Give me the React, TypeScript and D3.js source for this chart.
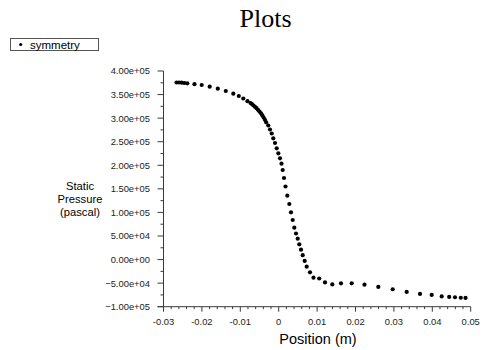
import React from "react";
import * as d3 from "d3";

const title = "Plots";
const seriesName = "symmetry";
const xLabel = "Position (m)";
const yLabelLines = ["Static", "Pressure", "(pascal)"];

const position = [
  -0.02661, -0.02596, -0.02526, -0.02458, -0.0238, -0.02193, -0.02005, -0.01797,
  -0.01586, -0.01378, -0.01182, -0.01039, -0.00922, -0.00813, -0.00734, -0.00695,
  -0.00656, -0.00617, -0.00578, -0.00539, -0.005, -0.00461, -0.00427, -0.00393,
  -0.00359, -0.00326, -0.00271, -0.00227, -0.00182, -0.00141, -0.00096, -0.00052,
  -0.0001, 0.00034, 0.00073, 0.00104, 0.00138, 0.00177, 0.00224, 0.00276, 0.0032,
  0.00365, 0.00406, 0.00451, 0.00495, 0.00536, 0.00581, 0.00625, 0.00677, 0.00729,
  0.00815, 0.00906, 0.01055, 0.01206, 0.01396, 0.01622, 0.01901, 0.02234, 0.02594,
  0.02969, 0.03333, 0.0368, 0.03984, 0.04245, 0.0444, 0.04591, 0.04742, 0.04865,
];
const pressure = [
  375600, 375600, 375180, 374550, 373910, 372000, 370300, 366700, 362450, 357580,
  351850, 346970, 341670, 335940, 332130, 329580, 326820, 324060, 321090, 317700,
  314090, 310270, 306030, 301360, 296480, 291180, 284400, 275910, 267430, 257250,
  247280, 236040, 225440, 214830, 203380, 190020, 173050, 155020, 135510, 117910,
  100300, 83970, 67630, 55330, 44300, 32420, 20960, 9310, -3000, -15090, -26990,
  -38430, -40130, -48610, -52850, -50310, -50310, -53280, -58140, -63020, -68740,
  -72980, -75100, -78290, -79350, -79990, -81050, -81470,
];

const xTicks = [-0.03, -0.02, -0.01, 0, 0.01, 0.02, 0.03, 0.04, 0.05];
const xTickLabels = ["-0.03", "-0.02", "-0.01", "0", "0.01", "0.02", "0.03", "0.04", "0.05"];
const yTicks = [-100000, -50000, 0, 50000, 100000, 150000, 200000, 250000, 300000, 350000, 400000];

function sci(v: number): string {
  const s = d3.format(".2e")(v);
  const [m, e] = s.split("e");
  const sign = e[0];
  const digits = e.slice(1).padStart(2, "0");
  return `${m}e${sign}${digits}`;
}

export default function App() {
  const W = 482;
  const H = 350;
  const x = d3.scaleLinear().domain([-0.03, 0.05]).range([163.5, 470.7]);
  const y = d3.scaleLinear().domain([-100000, 400000]).range([306.7, 71]);
  const axisColor = "#3a3a3a";
  const font = "Liberation Sans, Arial, sans-serif";

  const xMinor = d3.range(0, 41).map((i) => -0.03 + i * 0.002);
  const yMinor = d3.range(0, 21).map((i) => -100000 + i * 25000);

  const x0 = x(-0.03);
  const y0 = y(-100000);

  return (
    <svg
      width={W}
      height={H}
      style={{ position: "absolute", left: 0, top: 0, background: "#fff" }}
    >
      <rect x={0} y={0} width={W} height={H} fill="#fff" />
      <text
        x={265.5}
        y={27}
        textAnchor="middle"
        fontFamily="Liberation Serif, Times New Roman, serif"
        fontSize={26}
        fill="#000"
      >
        {title}
      </text>

      {/* legend */}
      <rect x={10.5} y={38.5} width={88} height={12} fill="#fff" stroke="#555" strokeWidth={1} />
      <circle cx={20.7} cy={44.5} r={1.6} fill="#000" />
      <text x={30} y={48.5} fontFamily={font} fontSize={11.5} fill="#000">
        {seriesName}
      </text>

      {/* axes */}
      <line x1={x0} x2={x0} y1={y(400000)} y2={y0 + 2.5} stroke={axisColor} strokeWidth={1} />
      <line x1={x0 - 6} x2={x(0.05)} y1={y0} y2={y0} stroke={axisColor} strokeWidth={1} />

      {yMinor.map((v, i) => (
        <line
          key={"ym" + i}
          x1={x0 - (i % 2 === 0 ? 6 : 3)}
          x2={x0}
          y1={y(v)}
          y2={y(v)}
          stroke={axisColor}
          strokeWidth={1}
        />
      ))}
      {yTicks.map((v) => (
        <text
          key={"yl" + v}
          x={150}
          y={y(v) + 3.4}
          textAnchor="end"
          fontFamily={font}
          fontSize={9.4}
          fill="#222"
        >
          {sci(v)}
        </text>
      ))}

      {xMinor.map((v, i) => (
        <line
          key={"xm" + i}
          x1={x(v)}
          x2={x(v)}
          y1={y0}
          y2={y0 + (i % 5 === 0 ? 5 : 2.5)}
          stroke={axisColor}
          strokeWidth={1}
        />
      ))}
      {xTicks.map((v, i) => (
        <text
          key={"xl" + i}
          x={x(v)}
          y={325}
          textAnchor="middle"
          fontFamily={font}
          fontSize={9.4}
          fill="#222"
        >
          {xTickLabels[i]}
        </text>
      ))}

      <text x={318} y={344} textAnchor="middle" fontFamily={font} fontSize={14.5} fill="#000">
        {xLabel}
      </text>
      {yLabelLines.map((s, i) => (
        <text
          key={"yt" + i}
          x={80}
          y={189.5 + i * 13}
          textAnchor="middle"
          fontFamily={font}
          fontSize={11.2}
          fill="#000"
        >
          {s}
        </text>
      ))}

      {position.map((p, i) => (
        <circle key={"pt" + i} cx={x(p)} cy={y(pressure[i])} r={2.1} fill="#000" />
      ))}
    </svg>
  );
}
